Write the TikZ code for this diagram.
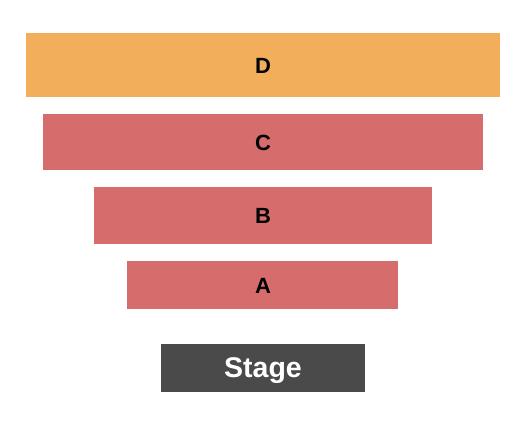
\documentclass[tikz,border=0pt]{standalone}
\usepackage{fontspec}
\setmainfont{Liberation Sans}
\definecolor{secD}{HTML}{F2AE5A}
\definecolor{secR}{HTML}{D66D6C}
\definecolor{stagec}{HTML}{4A4A4A}
\begin{document}
\begin{tikzpicture}[x=1pt,y=-1pt,
  sect/.style={draw=none,inner sep=0pt,anchor=base,font=\bfseries\fontsize{22}{26}\selectfont},
  stagebox/.style={draw=none,inner sep=0pt,anchor=base,text=white,font=\bfseries\fontsize{28.5}{32}\selectfont}]
\useasboundingbox (0,0) rectangle (525,425);
\fill[secD] (26,33) rectangle (500,97);
\node[sect] (D) at (263,73.5) {D};
\fill[secR] (43,114) rectangle (483,170);
\node[sect] (C) at (263,150) {C};
\fill[secR] (93.5,187) rectangle (432,244);
\node[sect] (B) at (263,223) {B};
\fill[secR] (127,261) rectangle (398,309);
\node[sect] (A) at (263,293) {A};
\fill[stagec] (161,344) rectangle (365,392);
\node[stagebox] (S) at (263,377) {Stage};
\end{tikzpicture}
\end{document}
